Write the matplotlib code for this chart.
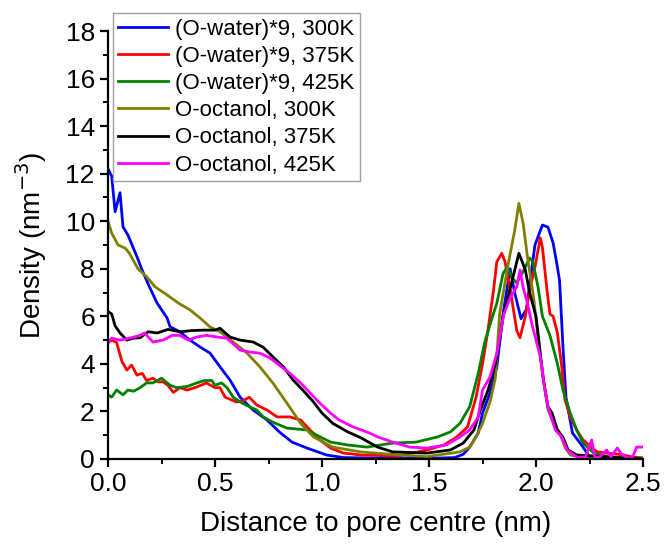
import matplotlib
matplotlib.use("Agg")
from matplotlib import pyplot as plt
from matplotlib.ticker import MultipleLocator

plt.rcParams['font.family'] = ['Liberation Sans', 'DejaVu Sans']

# (O-water)*9, 300K
x_w300 = [0, 0.017, 0.033, 0.056, 0.07, 0.093, 0.136, 0.159, 0.196, 0.229, 0.276, 0.29, 0.336, 0.383, 0.43,
          0.477, 0.523, 0.57, 0.617, 0.678, 0.743, 0.80, 0.86, 0.93, 1.02, 1.1, 1.3, 1.5, 1.62, 1.66, 1.69,
          1.73, 1.75, 1.785, 1.817, 1.846, 1.879, 1.90, 1.93, 1.955, 1.995, 2.03, 2.056, 2.08, 2.10, 2.11,
          2.126, 2.14, 2.17, 2.22, 2.25, 2.3, 2.4, 2.5]
y_w300 = [12.2, 11.9, 10.4, 11.2, 9.76, 9.42, 8.49, 7.95, 7.19, 6.56, 5.93, 5.56, 5.35, 5.0, 4.71,
          4.45, 3.88, 3.32, 2.6, 2.06, 1.64, 1.14, 0.71, 0.46, 0.17, 0.06, 0.03, 0.03, 0.06, 0.2, 0.5,
          1.1, 1.93, 2.78, 3.87, 6.1, 8.0, 7.0, 5.9, 6.3, 9.0, 9.84, 9.75, 9.08, 8.07, 7.5,
          4.7, 2.6, 1.1, 0.5, 0.08, 0.02, 0.0, 0.0]

# (O-water)*9, 375K
x_w375 = [0, 0.017, 0.04, 0.065, 0.088, 0.11, 0.135, 0.16, 0.18, 0.21, 0.234, 0.257, 0.28, 0.305, 0.336,
          0.37, 0.415, 0.46, 0.5, 0.523, 0.547, 0.6, 0.63, 0.66, 0.695, 0.743, 0.79, 0.85, 0.9, 0.944,
          0.99, 1.04, 1.1, 1.18, 1.36, 1.49, 1.57, 1.63, 1.68, 1.72, 1.75, 1.775, 1.80, 1.817, 1.84,
          1.855, 1.88, 1.91, 1.925, 1.95, 1.97, 1.995, 2.02, 2.03, 2.05, 2.065, 2.08, 2.10, 2.12, 2.135,
          2.16, 2.19, 2.22, 2.285, 2.33, 2.41, 2.45, 2.5]
y_w375 = [4.9, 5.0, 4.9, 4.1, 3.74, 3.95, 3.53, 3.6, 3.3, 3.4, 3.24, 3.25, 3.1, 2.8, 3.0,
          2.9, 3.03, 3.2, 3.0, 3.0, 2.6, 2.4, 2.45, 2.6, 2.27, 2.06, 1.77, 1.77, 1.64, 1.22,
          0.8, 0.46, 0.25, 0.17, 0.12, 0.38, 0.59, 0.93, 1.35, 2.6, 4.0, 5.4, 7.0, 8.3, 8.65,
          8.3, 7.1, 5.4, 5.1, 6.0, 7.1, 8.07, 9.3, 8.9, 7.2, 6.1, 6.0, 5.3, 3.9, 2.5,
          1.77, 1.22, 0.8, 0.3, 0.25, 0.17, 0.08, 0.05]

# (O-water)*9, 425K
x_w425 = [0, 0.017, 0.04, 0.07, 0.093, 0.12, 0.15, 0.18, 0.21, 0.25, 0.29, 0.32, 0.37, 0.415, 0.45,
          0.485, 0.5, 0.53, 0.556, 0.585, 0.617, 0.66, 0.695, 0.725, 0.77, 0.836, 0.93, 0.976, 1.04,
          1.12, 1.21, 1.33, 1.44, 1.54, 1.6, 1.645, 1.69, 1.73, 1.76, 1.79, 1.817, 1.846, 1.865, 1.89,
          1.91, 1.95, 1.97, 1.985, 2.01, 2.03, 2.065, 2.1, 2.126, 2.16, 2.19, 2.22, 2.27, 2.35, 2.5]
y_w425 = [2.7, 2.6, 2.9, 2.7, 2.9, 2.85, 3.0, 3.2, 3.2, 3.4, 3.1, 3.0, 3.05, 3.2, 3.3,
          3.3, 3.1, 3.2, 3.0, 2.6, 2.4, 2.2, 2.06, 1.77, 1.55, 1.3, 1.22, 1.0, 0.71,
          0.59, 0.5, 0.67, 0.71, 0.93, 1.14, 1.5, 2.2, 3.6, 4.9, 5.8, 6.56, 7.8, 8.07, 7.6,
          7.4, 8.07, 8.45, 8.3, 7.2, 6.0, 5.2, 4.0, 2.9, 1.93, 1.22, 0.67, 0.25, 0.05, 0.03]

# O-octanol, 300K
x_o300 = [0, 0.017, 0.047, 0.08, 0.1, 0.14, 0.18, 0.22, 0.276, 0.33, 0.383, 0.43, 0.477, 0.523, 0.585,
          0.65, 0.71, 0.77, 0.836, 0.9, 0.96, 1.05, 1.18, 1.36, 1.49, 1.645, 1.69, 1.72, 1.75, 1.785,
          1.81, 1.83, 1.87, 1.9, 1.92, 1.94, 1.96, 1.99, 2.01, 2.03, 2.056, 2.09, 2.11, 2.135, 2.16,
          2.25, 2.5]
y_o300 = [10.0, 9.5, 9.0, 8.87, 8.65, 8.0, 7.67, 7.24, 6.9, 6.55, 6.27, 5.93, 5.55, 5.35, 4.92,
          4.45, 3.87, 3.2, 2.35, 1.5, 0.93, 0.5, 0.3, 0.17, 0.1, 0.3, 0.5, 0.93, 1.5, 2.4,
          3.4, 6.1, 8.2, 9.6, 10.75, 9.9, 8.5, 6.7, 5.0, 3.6, 2.06, 1.35, 1.1, 0.5, 0.17,
          0.02, 0.0]

# O-octanol, 375K
x_o375 = [0, 0.017, 0.033, 0.056, 0.088, 0.117, 0.15, 0.187, 0.23, 0.28, 0.336, 0.39, 0.445, 0.5, 0.523,
          0.57, 0.617, 0.678, 0.725, 0.77, 0.82, 0.865, 0.91, 0.96, 1.0, 1.05, 1.12, 1.18, 1.26, 1.33,
          1.49, 1.6, 1.66, 1.71, 1.74, 1.776, 1.81, 1.83, 1.846, 1.88, 1.92, 1.95, 1.97, 2.0, 2.02,
          2.035, 2.056, 2.075, 2.1, 2.125, 2.15, 2.19, 2.5]
y_o375 = [6.2, 6.1, 5.6, 5.3, 5.0, 5.08, 5.1, 5.35, 5.3, 5.45, 5.35, 5.4, 5.42, 5.42, 5.5,
          5.13, 5.0, 4.92, 4.7, 4.3, 3.87, 3.32, 2.9, 2.4, 1.93, 1.5, 1.14, 0.9, 0.5, 0.3,
          0.25, 0.38, 0.67, 1.22, 2.06, 2.9, 4.0, 5.0, 6.0, 7.2, 8.65, 7.95, 7.0, 6.0, 4.45,
          3.3, 2.2, 1.93, 1.22, 0.93, 0.38, 0.17, 0.0]

# O-octanol, 425K
x_o425 = [0, 0.017, 0.056, 0.1, 0.15, 0.17, 0.21, 0.257, 0.3, 0.336, 0.375, 0.415, 0.46, 0.51, 0.556,
          0.617, 0.66, 0.71, 0.757, 0.8, 0.85, 0.9, 0.944, 0.99, 1.04, 1.08, 1.145, 1.22, 1.26, 1.33,
          1.41, 1.49, 1.58, 1.645, 1.69, 1.73, 1.75, 1.785, 1.817, 1.85, 1.88, 1.91, 1.925, 1.94, 1.96,
          1.98, 2.0, 2.02, 2.04, 2.056, 2.09, 2.12, 2.145, 2.19, 2.23, 2.26, 2.275, 2.3, 2.33, 2.35,
          2.38, 2.40, 2.43, 2.45, 2.47, 2.5]
y_o425 = [4.9, 5.08, 5.0, 5.08, 5.2, 5.3, 4.92, 5.0, 5.2, 5.2, 5.0, 5.13, 5.2, 5.13, 5.08,
          4.58, 4.5, 4.45, 4.25, 3.95, 3.6, 3.2, 2.78, 2.35, 1.93, 1.64, 1.35, 1.1, 0.93, 0.71,
          0.5, 0.46, 0.59, 0.93, 1.22, 1.77, 2.9, 3.45, 4.45, 6.1, 6.8, 7.24, 7.95, 7.2, 6.56,
          5.7, 5.0, 4.3, 3.0, 2.2, 1.22, 0.93, 0.38, 0.08, 0.08, 0.8, 0.05, 0.1, 0.38, 0.1,
          0.46, 0.2, 0.05, 0.05, 0.5, 0.5]

series = [
    (x_w300, y_w300, "(O-water)*9, 300K", "#0000ff"),
    (x_w375, y_w375, "(O-water)*9, 375K", "#ff0000"),
    (x_w425, y_w425, "(O-water)*9, 425K", "#008000"),
    (x_o300, y_o300, "O-octanol, 300K", "#808000"),
    (x_o375, y_o375, "O-octanol, 375K", "#000000"),
    (x_o425, y_o425, "O-octanol, 425K", "#ff00ff"),
]

fig = plt.figure(figsize=(6.64, 5.45), dpi=100)
ax = fig.add_axes([0.1627, 0.1578, 0.8057, 0.7853])

for x, y, name, cor in series:
    ax.plot(x, y, color=cor, lw=2, label=name)

ax.set_xlim(0, 2.5)
ax.set_ylim(0, 18)
ax.xaxis.set_major_locator(MultipleLocator(0.5))
ax.xaxis.set_minor_locator(MultipleLocator(0.25))
ax.yaxis.set_major_locator(MultipleLocator(2))
ax.yaxis.set_minor_locator(MultipleLocator(1))
ax.set_xticks([0, 0.5, 1.0, 1.5, 2.0, 2.5])
ax.set_xticklabels(["0.0", "0.5", "1.0", "1.5", "2.0", "2.5"])

for lado in ["top", "right"]:
    ax.spines[lado].set_visible(False)
for lado in ["left", "bottom"]:
    ax.spines[lado].set_linewidth(1.6)
ax.tick_params(which="major", direction="out", length=6, width=1.6, labelsize=19)
ax.tick_params(which="minor", direction="out", length=3.5, width=1.4)

ax.set_xlabel("Distance to pore centre (nm)", fontsize=20, labelpad=11)
ax.set_ylabel("Density (nm$^{-3}$)", fontsize=20, labelpad=12)

leg = ax.legend(loc="upper left", bbox_to_anchor=(0.009, 1.042), borderaxespad=0,
                fontsize=16, frameon=True, fancybox=False, framealpha=1, edgecolor="#a0a0a0",
                handlelength=2.25, handletextpad=0.3, labelspacing=0.28, borderpad=0.25)
leg.get_frame().set_linewidth(1.0)

plt.savefig("out.png", dpi=100)
